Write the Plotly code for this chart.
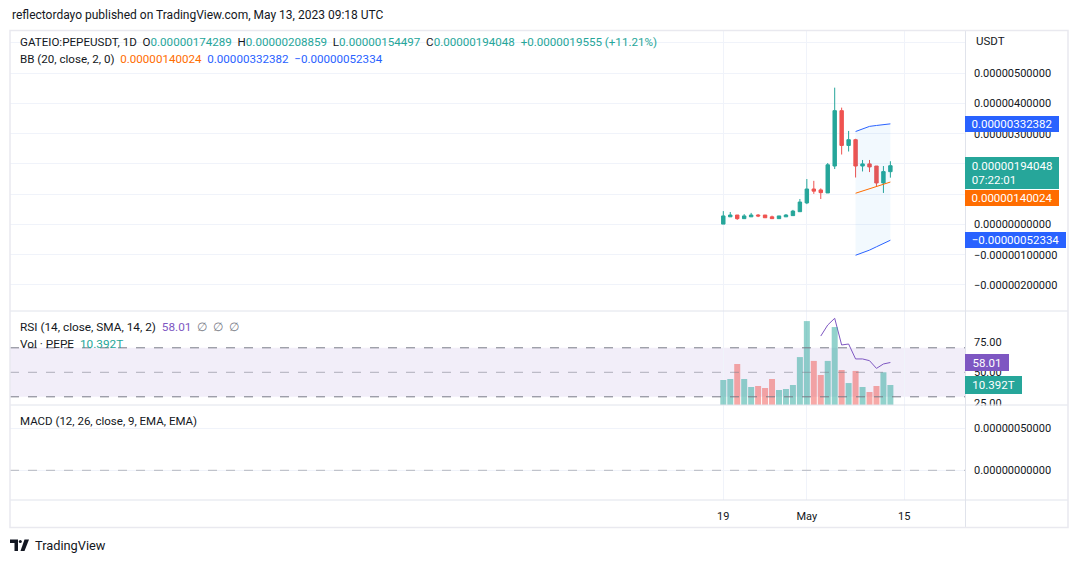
import plotly.graph_objects as go
import pandas as pd

# ---------------- data ----------------
dates = [d.strftime("%Y-%m-%d") for d in pd.date_range("2023-04-19", periods=25, freq="D")]
U = 1e-6
open_ = [0.01, 0.25, 0.31, 0.19, 0.25, 0.31, 0.31, 0.25, 0.19, 0.25, 0.29, 0.42, 0.71,
         1.17, 1.14, 1.04, 1.93, 3.76, 2.61, 2.80, 1.93, 2.00, 1.93, 1.37, 1.74289]
high = [0.44, 0.41, 0.31, 0.34, 0.38, 0.34, 0.31, 0.29, 0.28, 0.34, 0.48, 0.84, 1.50,
        1.44, 1.19, 2.03, 4.52, 3.86, 3.09, 2.83, 2.13, 2.13, 1.93, 1.93, 2.08859]
low = [0.01, 0.25, 0.15, 0.19, 0.25, 0.24, 0.22, 0.18, 0.19, 0.25, 0.29, 0.42, 0.67,
       1.01, 0.84, 1.04, 1.83, 2.31, 2.41, 1.55, 1.75, 1.73, 1.25, 1.04, 1.54497]
close = [0.28, 0.31, 0.19, 0.28, 0.31, 0.28, 0.22, 0.19, 0.28, 0.31, 0.44, 0.74, 1.17,
         1.10, 1.05, 1.97, 3.76, 2.61, 2.80, 1.93, 2.00, 1.90, 1.37, 1.745, 1.94048]
volume_t = [13.0, 13.5, 21.3, 13.5, 9.35, 9.87, 8.83, 13.5, 7.79, 8.31, 10.39, 24.9, 43.6,
            22.9, 15.6, 22.9, 40.5, 18.2, 11.4, 17.7, 9.35, 6.75, 9.87, 17.0, 10.392]
bb_dates = dates[19:]
bb_upper = [3.07, 3.16, 3.24, 3.27, 3.30, 3.32382]
bb_basis = [1.03, 1.10, 1.18, 1.25, 1.33, 1.40024]
bb_lower = [-1.02, -0.94, -0.85, -0.74, -0.63, -0.52334]
rsi_dates = dates[14:]
rsi = [79.6, 88.6, 94.1, 72.3, 73.1, 60.9, 60.9, 59.5, 53.2, 56.8, 58.01]

price_ticks = [6, 5, 4, 3, 2, 1, 0, -1, -2]
price_ticktext = ["", "0.00000500000", "0.00000400000", "0.00000300000", "", "",
                  "0.00000000000", "\u22120.00000100000", "\u22120.00000200000"]
rsi_ticks = [75, 50, 25]
rsi_ticktext = ["75.00", "50.00", "25.00"]
macd_ticks = [0.5, 0]
macd_ticktext = ["0.00000050000", "0.00000000000"]
time_ticks = ["2023-04-19", "2023-05-01", "2023-05-15"]
time_ticktext = ["19", "May", "15"]

# ---------------- styling / layout ----------------
UP, DN = "#26a69a", "#ef5350"
UP_V, DN_V = "rgba(38,166,154,0.5)", "rgba(239,83,80,0.5)"
BLUE, ORANGE, PURPLE = "#2962FF", "#FF6D00", "#7E57C2"
TXT = "#131722"
GRID = "#f0f3fa"
SEP = "#e0e3eb"
FONT = "Roboto"

W, H = 1079, 563
L_, R_, T_, B_ = 10, 965, 31, 500


def px(x):
    return (x - L_) / (R_ - L_)


def py(y):
    return (B_ - y) / (B_ - T_)


dom_main = [py(311), 1]
dom_rsi = [py(405), py(311)]
dom_macd = [0, py(405)]

base = pd.Timestamp("2023-04-19")
ppd = 6.962  # pixels per day
x0 = base + pd.Timedelta(days=(L_ - 723.3) / ppd)
x1 = base + pd.Timedelta(days=(R_ - 723.3) / ppd)

fig = go.Figure()

# volume (overlay in RSI pane)
vol_colors = [UP_V if c >= o else DN_V for o, c in zip(open_, close)]
fig.add_trace(go.Bar(x=dates, y=[v * 1e12 for v in volume_t], marker=dict(color=vol_colors, line=dict(width=0)),
                     width=0.86 * 86400000, xaxis="x", yaxis="y3", hoverinfo="skip"))

# BB
fig.add_trace(go.Scatter(x=bb_dates, y=[v * U for v in bb_upper], mode="lines",
                         line=dict(color=BLUE, width=1), xaxis="x", yaxis="y"))
fig.add_trace(go.Scatter(x=bb_dates, y=[v * U for v in bb_lower], mode="lines",
                         line=dict(color=BLUE, width=1), fill="tonexty",
                         fillcolor="rgba(33,150,243,0.06)", xaxis="x", yaxis="y"))
fig.add_trace(go.Scatter(x=bb_dates, y=[v * U for v in bb_basis], mode="lines",
                         line=dict(color=ORANGE, width=1), xaxis="x", yaxis="y"))

# candles
fig.add_trace(go.Candlestick(
    x=dates, open=[v * U for v in open_], high=[v * U for v in high],
    low=[v * U for v in low], close=[v * U for v in close],
    increasing=dict(line=dict(color=UP, width=1), fillcolor=UP),
    decreasing=dict(line=dict(color=DN, width=1), fillcolor=DN),
    whiskerwidth=0, xaxis="x", yaxis="y"))

# RSI
fig.add_trace(go.Scatter(x=rsi_dates, y=rsi, mode="lines", line=dict(color=PURPLE, width=1),
                         xaxis="x", yaxis="y2"))

# empty MACD pane
fig.add_trace(go.Scatter(x=[dates[0], dates[-1]], y=[None, None], mode="lines",
                         xaxis="x", yaxis="y4", hoverinfo="skip"))

axis_font = dict(family=FONT, size=11, color=TXT)

fig.update_layout(
    width=W, height=H,
    margin=dict(l=L_, r=W - R_, t=T_, b=H - B_),
    paper_bgcolor="white", plot_bgcolor="white",
    showlegend=False,
    font=dict(family=FONT, size=11, color=TXT),
    xaxis=dict(type="date", range=[x0, x1], anchor="y4", domain=[0, 1],
               tickvals=time_ticks, ticktext=time_ticktext, tickfont=axis_font,
               showgrid=True, gridcolor=GRID, gridwidth=1, zeroline=False,
               showline=False, ticks="", ticklabelstandoff=8,
               rangeslider=dict(visible=False), fixedrange=True),
    yaxis=dict(domain=dom_main, side="right", anchor="x",
               range=[(224.4 - 311) / 30.25 * U, (224.4 - 31) / 30.25 * U],
               tickvals=[v * U for v in price_ticks], ticktext=price_ticktext,
               tickfont=axis_font, showgrid=True, gridcolor=GRID, zeroline=False,
               ticks="", ticklabelstandoff=8, showline=False),
    yaxis2=dict(domain=dom_rsi, side="right", anchor="x",
                range=[50 - (405 - 372.3) / 1.225, 50 + (372.3 - 311) / 1.225],
                tickvals=rsi_ticks, ticktext=rsi_ticktext, tickfont=axis_font,
                showgrid=False, zeroline=False, ticks="", ticklabelstandoff=8),
    yaxis3=dict(overlaying="y2", side="right", anchor="x", range=[0, 48.84e12],
                showticklabels=False, showgrid=False, zeroline=False),
    yaxis4=dict(domain=dom_macd, side="right", anchor="x",
                range=[-(500 - 470.3) / 84 * U, (470.3 - 405) / 84 * U],
                tickvals=[v * U for v in macd_ticks], ticktext=macd_ticktext,
                tickfont=axis_font, showgrid=True, gridcolor=GRID, zeroline=False,
                ticks="", ticklabelstandoff=8),
)

shapes = []
# RSI band and levels
shapes.append(dict(type="rect", xref="paper", x0=0, x1=1, yref="y2", y0=30, y1=70,
                   fillcolor="rgba(126,87,194,0.1)", line=dict(width=0), layer="below"))
for lv, col in [(70, "#787b86"), (50, "rgba(120,123,134,0.55)"), (30, "#787b86")]:
    shapes.append(dict(type="line", xref="paper", x0=0, x1=1, yref="y2", y0=lv, y1=lv,
                       line=dict(color=col, width=1, dash="dash"), layer="above"))
# MACD zero line
shapes.append(dict(type="line", xref="paper", x0=0, x1=1, yref="y4", y0=0, y1=0,
                   line=dict(color="rgba(120,123,134,0.5)", width=1, dash="dash")))
# clip of 25.00 label
shapes.append(dict(type="rect", xref="paper", yref="paper", x0=px(966), x1=px(1067),
                   y0=py(411), y1=py(405.6), fillcolor="white", line=dict(width=0), layer="above"))
# separators and frame
for yy in (311, 405, 500):
    shapes.append(dict(type="line", xref="paper", yref="paper", x0=px(10), x1=px(1068),
                       y0=py(yy), y1=py(yy), line=dict(color=SEP, width=1), layer="above"))
shapes.append(dict(type="line", xref="paper", yref="paper", x0=px(965.5), x1=px(965.5),
                   y0=py(31), y1=py(527), line=dict(color=SEP, width=1), layer="above"))
shapes.append(dict(type="rect", xref="paper", yref="paper", x0=px(10), x1=px(1068),
                   y0=py(527.5), y1=py(30.5), line=dict(color="#e9e9ef", width=1.5),
                   fillcolor="rgba(0,0,0,0)", layer="above"))


# TradingView logo
def path(pts):
    s = "M " + " L ".join(f"{px(x):.5f},{py(y):.5f}" for x, y in pts) + " Z"
    return s


shapes.append(dict(type="path", xref="paper", yref="paper",
                   path=path([(10, 539.5), (18, 539.5), (18, 551), (14.5, 551), (14.5, 543), (10, 543)]),
                   fillcolor="#131722", line=dict(width=0)))
shapes.append(dict(type="circle", xref="paper", yref="paper", x0=px(18.8), x1=px(21.8),
                   y0=py(543), y1=py(540), fillcolor="#131722", line=dict(width=0)))
shapes.append(dict(type="path", xref="paper", yref="paper",
                   path=path([(24.5, 539.5), (29, 539.5), (24.5, 551), (20.5, 551)]),
                   fillcolor="#131722", line=dict(width=0)))

fig.update_layout(shapes=shapes)

NB = "\u00a0"
ann = []


def text(x, y, t, size=11.5, color=TXT):
    ann.append(dict(xref="paper", yref="paper", x=px(x), y=py(y), xanchor="left", yanchor="middle",
                    text=t, showarrow=False, font=dict(family=FONT, size=size, color=color)))


text(10, 15, "reflectordayo published on TradingView.com, May 13, 2023 09:18 UTC", size=12)


def c(t, col):
    return f"<span style='color:{col}'>{t}</span>"


sp = NB * 2
text(18, 42, "GATEIO:PEPEUSDT, 1D" + sp + "O" + c("0.00000174289", UP) + sp + "H" + c("0.00000208859", UP)
     + sp + "L" + c("0.00000154497", UP) + sp + "C" + c("0.00000194048", UP) + sp
     + c("+0.0000019555 (+11.21%)", UP), size=11.6)
text(18, 59, "BB (20, close, 2, 0)" + sp + c("0.00000140024", ORANGE) + sp + c("0.00000332382", BLUE)
     + sp + c("\u22120.00000052334", BLUE), size=11.6)
text(18, 326.5, "RSI (14, close, SMA, 14, 2)" + sp + c("58.01", PURPLE) + sp
     + c("\u2205" + sp + "\u2205" + sp + "\u2205", "#787b86"), size=11.8)
text(18, 343.5, "Vol \u00b7 PEPE" + sp + c("10.392T", UP), size=11.8)
text(18, 421, "MACD (12, 26, close, 9, EMA, EMA)")
text(974, 41, "USDT")
text(33, 545.5, "TradingView", size=12.8)


def box(yval, yref, t, col, w, h=14, yshift=0, align="center", pad=0):
    ann.append(dict(xref="paper", yref=yref, x=1.0, y=yval, xanchor="left", yanchor="middle",
                    text=t, showarrow=False, bgcolor=col, bordercolor=col, borderpad=pad,
                    width=w, height=h, align=align, yshift=yshift,
                    font=dict(family=FONT, size=11.5, color="white")))


box(bb_upper[-1] * U, "y", "0.00000332382", BLUE, 92)
box(close[-1] * U, "y", NB + "0.00000194048<br>" + NB + "07:22:01", UP, 86, h=24, yshift=-7.5,
    align="left", pad=3)
box(bb_basis[-1] * U, "y", "0.00000140024", ORANGE, 92, yshift=-16.3)
box(bb_lower[-1] * U, "y", "\u22120.00000052334", BLUE, 99)
box(rsi[-1], "y2", "58.01", PURPLE, 42, h=15)
box(volume_t[-1] * 1e12, "y3", "10.392T", UP, 55, h=16)

fig.update_layout(annotations=ann)

fig.write_html("out.html")
